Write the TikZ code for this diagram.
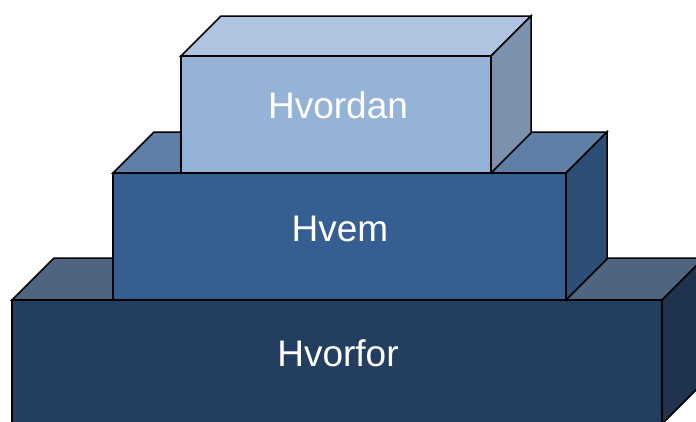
\documentclass[tikz,border=0pt]{standalone}
\usepackage{fontspec}
\setmainfont{Liberation Sans}
\definecolor{topF}{HTML}{95B3D7}
\definecolor{topT}{HTML}{B0C4E1}
\definecolor{topS}{HTML}{7C91AD}
\definecolor{midF}{HTML}{365F91}
\definecolor{midT}{HTML}{5F7FA7}
\definecolor{midS}{HTML}{2D4F77}
\definecolor{botF}{HTML}{243E5F}
\definecolor{botT}{HTML}{4F6480}
\definecolor{botS}{HTML}{1F334F}
\tikzset{
  face/.style={draw=black, line width=1.5pt, line join=miter},
  lbl/.style={text=white, font=\fontsize{37}{42}\selectfont, inner sep=0pt}
}
% #1 left x, #2 top y, #3 right x, #4 bottom y, #5 depth, #6 front, #7 top, #8 side
\newcommand{\boxthreed}[8]{%
  \filldraw[face, fill=#7] (#1,#2) -- ++(#5,-#5) -- (#3+#5,#2-#5) -- (#3,#2) -- cycle;
  \filldraw[face, fill=#8] (#3,#2) -- (#3+#5,#2-#5) -- (#3+#5,#4-#5) -- (#3,#4) -- cycle;
  \filldraw[face, fill=#6] (#1,#2) rectangle (#3,#4);
}
\begin{document}
\begin{tikzpicture}[x=1pt,y=-1pt]
\useasboundingbox (0,0) rectangle (696,421);
\begin{scope}
\clip (0,0) rectangle (696,421);
\boxthreed{12}{300}{662}{424}{42}{botF}{botT}{botS}
\boxthreed{113}{173}{566}{300}{41}{midF}{midT}{midS}
\boxthreed{181}{56}{491}{173}{40}{topF}{topT}{topS}
\end{scope}
\node[lbl] (hvordan) at (338,105.5) {Hvordan};
\node[lbl] (hvem) at (340,229) {Hvem};
\node[lbl] (hvorfor) at (338,353.5) {Hvorfor};
\end{tikzpicture}
\end{document}
